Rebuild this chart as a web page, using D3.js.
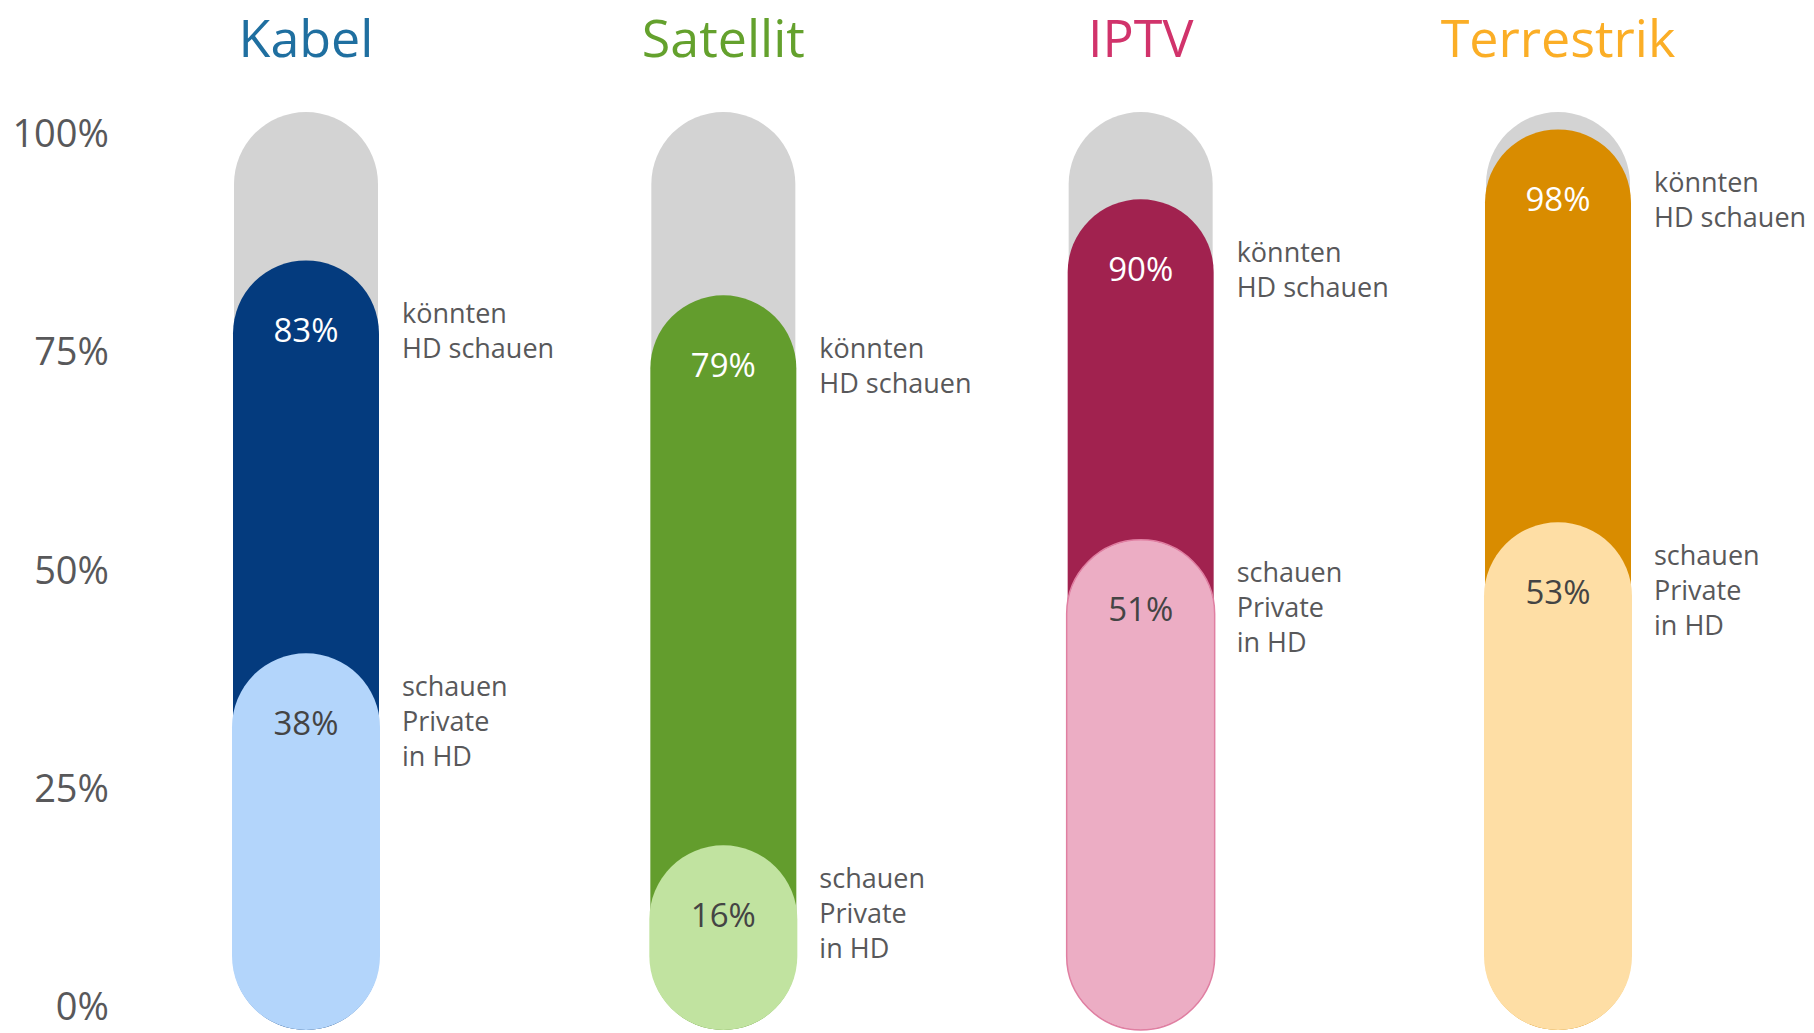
<!DOCTYPE html>
<html>
<head>
<meta charset="utf-8">
<script src="https://cdn.jsdelivr.net/npm/d3@7"></script>
<style>
  body { margin: 0; background: #fff; }
  text { font-family: "Open Sans", "Noto Sans", sans-serif; }
</style>
</head>
<body>
<svg id="chart" width="1814" height="1033"></svg>
<script>
// data
var categories = ["Kabel", "Satellit", "IPTV", "Terrestrik"];
var couldWatchHD = [83, 79, 90, 98];      // "könnten HD schauen"
var watchPrivateHD = [38, 16, 51, 53];    // "schauen Private in HD"
var yTicks = [0, 25, 50, 75, 100];
var topLabel = ["könnten", "HD schauen"];
var bottomLabel = ["schauen", "Private", "in HD"];

// colours
var titleColors = ["#1f6fa0", "#64a12d", "#d1336b", "#fbae26"];
var darkColors = ["#043b7e", "#639d2d", "#a1224f", "#d98c00"];
var lightColors = ["#b3d5fb", "#c1e3a0", "#ecadc4", "#fedea5"];
var lightStroke = ["none", "none", "#e07fa2", "none"];

var svg = d3.select("#chart"),
    width = +svg.attr("width"),
    height = +svg.attr("height"),
    r = 72,
    bottom = height - 3,
    textGrey = "#58585a";

var x = d3.scalePoint()
    .domain(categories)
    .range([306, 1558]);

var y = d3.scaleLinear()
    .domain([0, 100])
    .range([985, 112]);

// y axis labels
svg.append("g")
  .selectAll("text")
  .data(yTicks)
  .join("text")
    .attr("x", 109)
    .attr("y", function (d) { return y(d) + 20; })
    .attr("text-anchor", "end")
    .attr("dominant-baseline", "central")
    .attr("font-size", 38)
    .attr("fill", textGrey)
    .text(function (d) { return d + "%"; });

function pill(g, top, rad, fill, stroke) {
    g.append("rect")
        .attr("x", -rad)
        .attr("y", top)
        .attr("width", rad * 2)
        .attr("height", bottom - top)
        .attr("rx", rad)
        .attr("ry", rad)
        .attr("fill", fill)
        .attr("stroke", stroke)
        .attr("stroke-width", 1.5);
}

function sideLabel(g, top, lines) {
    var t = g.append("text")
        .attr("font-size", 27)
        .attr("fill", textGrey);
    lines.forEach(function (line, i) {
        t.append("tspan")
            .attr("x", r + 24)
            .attr("y", top + i * 35)
            .attr("dominant-baseline", "central")
            .text(line);
    });
}

categories.forEach(function (cat, i) {
    var g = svg.append("g").attr("transform", "translate(" + x(cat) + ",0)");

    g.append("text")
        .attr("y", 57)
        .attr("text-anchor", "middle")
        .attr("font-size", 52)
        .attr("fill", titleColors[i])
        .text(cat);

    // grey track = 100%
    pill(g, y(100), r, "#d3d3d3", "none");
    pill(g, y(couldWatchHD[i]), r + 1, darkColors[i], "none");
    pill(g, y(watchPrivateHD[i]), r + 2, lightColors[i], lightStroke[i]);

    g.append("text")
        .attr("y", y(couldWatchHD[i]) + 69)
        .attr("text-anchor", "middle")
        .attr("dominant-baseline", "central")
        .attr("font-size", 33)
        .attr("fill", "#fff")
        .text(couldWatchHD[i] + "%");

    g.append("text")
        .attr("y", y(watchPrivateHD[i]) + 69)
        .attr("text-anchor", "middle")
        .attr("dominant-baseline", "central")
        .attr("font-size", 33)
        .attr("fill", "#444")
        .text(watchPrivateHD[i] + "%");

    sideLabel(g, y(couldWatchHD[i]) + 52, topLabel);
    sideLabel(g, y(watchPrivateHD[i]) + 32, bottomLabel);
});
</script>
</body>
</html>
